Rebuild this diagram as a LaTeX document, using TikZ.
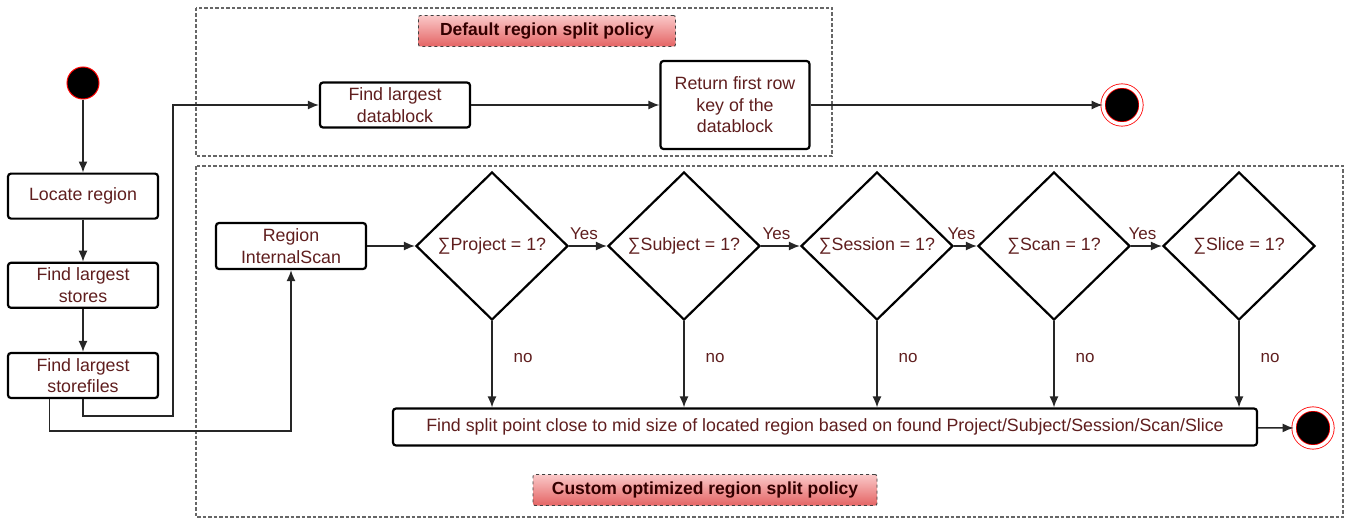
\documentclass[tikz,border=0pt]{standalone}
\usepackage{fontspec}
\setmainfont{Liberation Sans}
\usetikzlibrary{arrows.meta,shapes,positioning}
\definecolor{txtred}{RGB}{95,30,30}
\definecolor{lblred}{RGB}{228,100,100}
\definecolor{lblpink}{RGB}{250,200,200}
\tikzset{
  basic/.style    = {draw, line width=2.2pt, text=txtred, align=center,
                     font=\fontsize{17.8}{21.5}\selectfont},
  task/.style     = {basic, rectangle, rounded corners=3pt, inner sep=2pt,
                     minimum width=150pt, minimum height=45pt},
  decision/.style = {basic, diamond, inner sep=0pt,
                     minimum width=152pt, minimum height=148pt},
  policy/.style   = {draw=black!75, dashed, line width=0.9pt, rounded corners=2pt,
                     top color=lblpink, bottom color=lblred, text=black!80!red,
                     font=\fontsize{17.5}{20}\bfseries, minimum height=31pt},
  policyframe/.style = {draw=black!60, dash pattern=on 3.5pt off 2pt, line width=1.2pt},
  initnode/.style  = {circle, fill=black, draw=red, line width=1pt,
                     minimum size=32pt, inner sep=0pt},
  finalnode/.style = {circle, fill=black, draw=red, double=white, double distance=3.5pt,
                     line width=0.8pt, minimum size=38pt, inner sep=0pt},
  flow/.style     = {draw=black!85, line width=1.4pt, ->},
  answer/.style   = {text=txtred, font=\fontsize{17}{19}\selectfont, inner sep=1pt}
}

\begin{document}
\begin{tikzpicture}[x=1pt, y=-1pt, >={Latex[length=11pt,width=9pt]}]
\useasboundingbox (0,0) rectangle (1351,519);

% policy frames
\draw[policyframe] (196,8) rectangle (832,156);
\draw[policyframe] (196,166) rectangle (1343,517);
\node[policy, minimum width=257pt] (deflbl) at (547,31) {Default region split policy};
\node[policy, minimum width=344pt] (cuslbl) at (705,490) {Custom optimized region split policy};

% left column
\node[initnode] (init) at (83,83) {};
\node[task, below=73pt of init] (locate) {Locate region};
\node[task, below=42pt of locate] (stores) {Find largest\\stores};
\node[task, below=43pt of stores] (storefiles) {Find largest\\storefiles};

% default policy
\node[task] (dblock) at (395,105) {Find largest\\datablock};
\node[task, minimum width=149pt, minimum height=88pt] (retkey) at (735,105) {Return first row\\key of the\\datablock};
\node[finalnode] (final1) at (1122,105) {};

% custom policy
\node[task, minimum height=46pt] (scan) at (291,246) {Region\\InternalScan};
\node[decision] (d1) at (492,246) {∑Project = 1?};
\node[decision] (d2) at (684,246) {∑Subject = 1?};
\node[decision] (d3) at (877,246) {∑Session = 1?};
\node[decision] (d4) at (1054,246) {∑Scan = 1?};
\node[decision] (d5) at (1239,246) {∑Slice = 1?};
\node[task, minimum width=864pt, minimum height=37pt] (split) at (825,427)
  {Find split point close to mid size of located region based on found Project/Subject/Session/Scan/Slice};
\node[finalnode] (final2) at (1313,428) {};

\coordinate (b1) at (173,416);
\coordinate (b2) at (52,431);

\draw[flow] (init) -- (locate);
\draw[flow] (locate) -- (stores);
\draw[flow] (stores) -- (storefiles);
\draw[flow] (storefiles.south) |- (b1) |- (dblock.west);
\draw[flow] (storefiles.215) |- (b2) -| (scan.south);
\draw[flow] (dblock) -- (retkey);
\draw[flow] (retkey) -- (final1);
\draw[flow] (scan) -- (d1);

\foreach \a/\b in {1/2,2/3,3/4,4/5}
  \draw[flow] (d\a) -- node[answer, above=5pt, xshift=-4pt] {Yes} (d\b);

\foreach \value in {1,...,5}
  \draw[flow] (d\value) -- node[answer, pos=0.43, right=20pt] {no} (d\value |- split.north);

\draw[flow] (split) -- (final2);

\end{tikzpicture}
\end{document}
